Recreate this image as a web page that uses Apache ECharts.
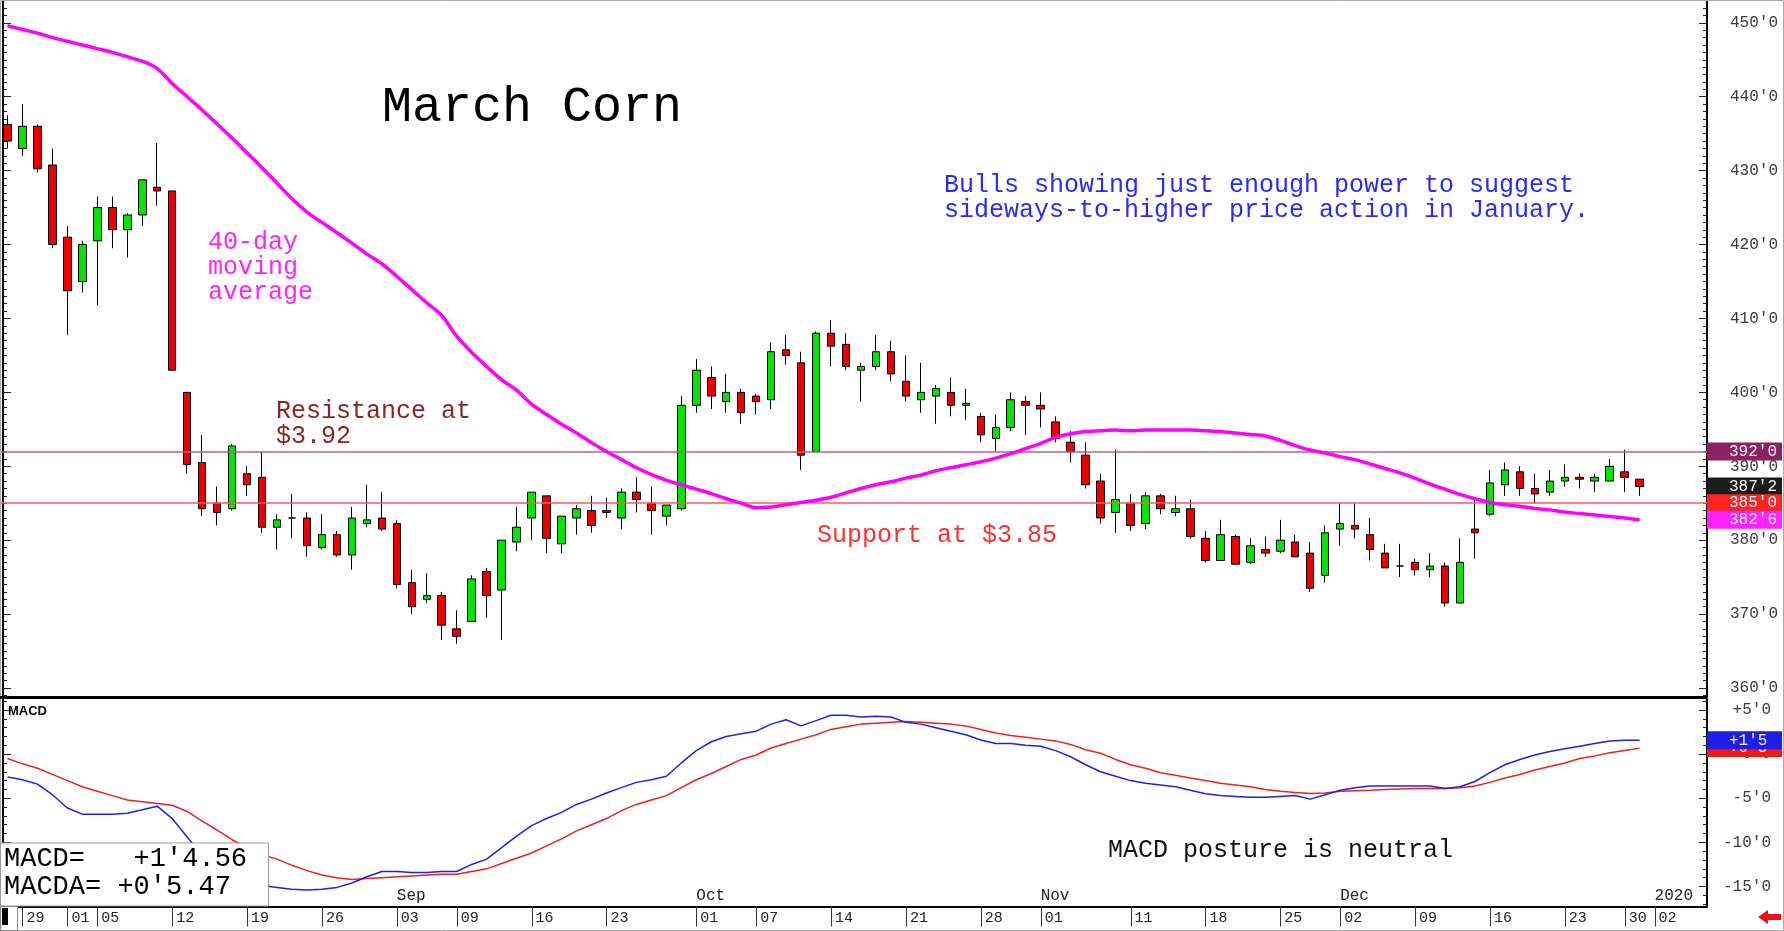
<!DOCTYPE html>
<html>
<head>
<meta charset="utf-8">
<title>March Corn</title>
<script src="https://cdn.jsdelivr.net/npm/echarts@6/dist/echarts.min.js"></script>
<style>
  html, body { margin: 0; padding: 0; background: #fff; }
  #main { width: 1784px; height: 931px; }
</style>
</head>
<body>
<div id="main"></div>
<script>
// trading days (4 empty days of 2020 at the right edge)
var dates = [
  '2019-07-26','2019-07-29','2019-07-30','2019-07-31',
  '2019-08-01','2019-08-02','2019-08-05','2019-08-06','2019-08-07','2019-08-08','2019-08-09',
  '2019-08-12','2019-08-13','2019-08-14','2019-08-15','2019-08-16',
  '2019-08-19','2019-08-20','2019-08-21','2019-08-22','2019-08-23',
  '2019-08-26','2019-08-27','2019-08-28','2019-08-29','2019-08-30',
  '2019-09-03','2019-09-04','2019-09-05','2019-09-06',
  '2019-09-09','2019-09-10','2019-09-11','2019-09-12','2019-09-13',
  '2019-09-16','2019-09-17','2019-09-18','2019-09-19','2019-09-20',
  '2019-09-23','2019-09-24','2019-09-25','2019-09-26','2019-09-27',
  '2019-09-30',
  '2019-10-01','2019-10-02','2019-10-03','2019-10-04',
  '2019-10-07','2019-10-08','2019-10-09','2019-10-10','2019-10-11',
  '2019-10-14','2019-10-15','2019-10-16','2019-10-17','2019-10-18',
  '2019-10-21','2019-10-22','2019-10-23','2019-10-24','2019-10-25',
  '2019-10-28','2019-10-29','2019-10-30','2019-10-31',
  '2019-11-01',
  '2019-11-04','2019-11-05','2019-11-06','2019-11-07','2019-11-08',
  '2019-11-11','2019-11-12','2019-11-13','2019-11-14','2019-11-15',
  '2019-11-18','2019-11-19','2019-11-20','2019-11-21','2019-11-22',
  '2019-11-25','2019-11-26','2019-11-27','2019-11-29',
  '2019-12-02','2019-12-03','2019-12-04','2019-12-05','2019-12-06',
  '2019-12-09','2019-12-10','2019-12-11','2019-12-12','2019-12-13',
  '2019-12-16','2019-12-17','2019-12-18','2019-12-19','2019-12-20',
  '2019-12-23','2019-12-24','2019-12-26','2019-12-27','2019-12-30','2019-12-31',
  '2020-01-02','2020-01-03','2020-01-06','2020-01-07'
];

var opens = [
  436.25,433,436,430.75,421,415,420.5,425,422,424,
  427.75,427.25,400,390.5,385,384.25,389,388.5,381.75,383,
  383,379,380.75,378,382.25,383,382.25,374.25,372,372.5,
  368,369,375.75,373.25,379.75,383,386,379.5,383,384,
  384,383,386.5,385,383.25,384.25,398.25,402,398.75,400,
  399.5,399,405.75,404,392,408,406.5,403,403.5,405.5,
  401.5,399,399.5,400,398.25,396.75,393.75,395.25,398.75,398.25,
  396,393.25,391.5,388,383.75,385,382.25,386,383.75,384.25,
  380.25,377.25,380.5,377,378.75,378.5,379.75,378.25,375.25,381.5,
  382,380.75,378.25,376.5,377,376,376.5,371.5,381.5,383.5,
  387.5,389.25,387,386.5,388,388.5,388,388,389.25,388.25
];
var highs = [
  437.5,439,436.25,433,422.5,420.5,426.5,426.5,424.25,428.75,
  433.75,427.25,400,394.25,387.25,393,390,392,383.5,386.25,
  383.75,383.5,381.25,384.5,387.5,386.5,382.75,376,375.5,373,
  370.5,375.25,376.25,380,384.5,386.5,386,383.25,384.75,386,
  385.75,387,388.5,387.25,384.75,399.5,404.5,403.5,402.5,400.5,
  399.75,406.75,407.75,405.5,408.25,409.75,408,404,407.75,407,
  405,404,401,402,400.5,397.25,397,400,399.5,400,
  396.75,394.75,393.25,389,392.25,386.25,386.5,386.25,386,385.5,
  381.25,382.75,380.75,380.25,380.5,382.75,380.75,379.75,382,385,
  385,383,379.5,379.5,377.5,378.25,377,380.25,385.5,389.5,
  390.5,390,389,389.5,390.25,389,389,391,392.25,388.25
];
var lows = [
  433,432,429.75,419.5,407.75,413.5,411.75,419.5,418.25,422.5,
  425.25,403,389,383.25,382,384,386,381,378.75,380.25,
  377.75,378.75,377.75,376,381.75,381.25,373.5,370,371.5,366.5,
  366,369,369.5,366.5,378.5,380,378.25,378.25,380.75,381,
  383,381.5,383.75,380.75,382,384,397.25,397.75,397.25,395.75,
  397,397.75,403.75,389.5,392,403.5,403,398.75,403,401.5,
  398.75,397.25,395.75,396.75,396.25,393.25,392,394.75,394.25,395.25,
  393.25,390.5,387,382.25,381,381.25,381.5,383.5,383.25,380.25,
  377,377.25,376.75,376.75,377.75,378.25,377.75,373,374.25,379.25,
  380.25,377.25,376.25,375,375.25,375,371,371.5,377.5,383.25,
  386,386,385,386,387.25,387,386.5,388,386.5,386
];
var closes = [
  434,436,430.25,420,413.75,420,425,422,424,428.75,
  427.25,403,390.25,384.25,383.75,392.75,387.5,381.75,382.75,383,
  379.25,380.75,378,383,382.75,381.5,374,371,372.5,368.5,
  367,374.75,372.5,380,381.75,386.5,380.25,383.25,384.25,382,
  383.75,386.5,385.5,384,384.75,398.25,403,399.5,400,397.25,
  398.75,405.5,405,391.5,408,406.25,403.5,403.5,405.5,402.5,
  399.5,400,400.5,398.25,398.5,394.25,395.25,399,398.25,397.75,
  393.75,392,387.5,383,385.5,382,386,384.25,384.25,380.5,
  377.25,380.75,376.75,379.25,378.25,380,377.75,373.5,381,382.25,
  381.5,378.75,376.25,376.5,376,376.5,371.5,377,381,387.75,
  389.5,387,386.25,388,388.5,388.25,388.5,390,388.5,387.25
];

// 40-day moving average
var ma40 = [
  449.6,449.1,448.6,448.0,447.5,447.0,446.5,446.0,445.4,444.8,
  443.8,441.8,440.0,438.2,436.3,434.4,432.4,430.4,428.3,426.2,
  424.4,423.0,421.6,420.2,418.7,417.4,415.7,413.9,412.1,410.4,
  407.6,405.4,403.5,401.7,400.3,398.4,397.0,395.7,394.5,393.2,
  392.0,390.9,389.8,388.9,388.1,387.5,386.9,386.3,385.6,385.0,
  384.4,384.5,384.8,385.1,385.4,385.8,386.4,387.0,387.5,387.9,
  388.4,388.8,389.4,389.8,390.2,390.6,391.1,391.7,392.4,393.1,
  393.9,394.4,394.7,394.8,394.9,394.8,394.9,394.9,394.9,394.9,
  394.8,394.7,394.5,394.3,394.1,393.5,392.8,392.2,391.8,391.3,
  390.9,390.3,389.7,389.1,388.4,387.6,386.9,386.2,385.6,385.1,
  384.8,384.6,384.3,384.1,383.8,383.6,383.4,383.2,383.0,382.75
];

var macd = [
  -2.6,-2.9,-3.4,-4.6,-6.1,-6.8,-6.8,-6.8,-6.7,-6.3,
  -5.9,-7.3,-9.4,-11.5,-13.0,-14.0,-14.6,-14.9,-15.1,-15.3,
  -15.4,-15.3,-15.1,-14.6,-13.9,-13.3,-13.3,-13.4,-13.4,-13.3,
  -13.3,-12.5,-11.9,-10.6,-9.3,-8.1,-7.3,-6.6,-5.7,-5.1,
  -4.4,-3.8,-3.2,-2.9,-2.5,-1.0,0.4,1.4,2.0,2.3,
  2.6,3.4,3.9,3.2,3.8,4.4,4.4,4.2,4.3,4.2,
  3.6,3.4,3.0,2.6,2.2,1.6,1.2,1.2,1.0,0.9,
  0.4,-0.3,-1.2,-2.0,-2.5,-3.0,-3.3,-3.5,-3.7,-4.1,
  -4.5,-4.7,-4.8,-4.9,-4.9,-4.8,-4.7,-5.1,-4.6,-4.1,
  -3.8,-3.6,-3.6,-3.6,-3.6,-3.6,-3.9,-3.7,-3.1,-2.1,
  -1.2,-0.6,-0.1,0.3,0.6,0.9,1.2,1.5,1.57,1.57
];
var macdAvg = [
  -0.5,-1.1,-1.6,-2.3,-3.0,-3.7,-4.2,-4.7,-5.2,-5.4,
  -5.6,-5.8,-6.5,-7.6,-8.6,-9.7,-10.6,-11.4,-11.9,-12.6,
  -13.2,-13.7,-14.0,-14.2,-14.1,-14.0,-13.9,-13.8,-13.7,-13.6,
  -13.6,-13.3,-13.0,-12.4,-11.8,-11.2,-10.4,-9.6,-8.7,-8.0,
  -7.3,-6.4,-5.7,-5.2,-4.7,-3.8,-2.9,-2.2,-1.4,-0.6,
  -0.1,0.7,1.2,1.7,2.2,2.8,3.1,3.4,3.5,3.6,
  3.7,3.6,3.5,3.4,3.2,2.8,2.4,2.1,1.9,1.7,
  1.5,1.1,0.5,0.1,-0.6,-1.2,-1.6,-2.1,-2.4,-2.7,
  -3.0,-3.3,-3.5,-3.7,-4.0,-4.2,-4.35,-4.45,-4.4,-4.2,
  -4.15,-4.1,-4.0,-3.95,-3.9,-3.9,-3.9,-3.8,-3.6,-3.2,
  -2.7,-2.3,-1.8,-1.4,-1.0,-0.5,-0.2,0.15,0.4,0.68
];

var priceTicks = [360, 370, 380, 390, 400, 410, 420, 430, 440, 450];
var macdTicks = [5, 0, -5, -10, -15];
var dayLabels = ['2019-07-29','2019-08-01','2019-08-05','2019-08-12','2019-08-19','2019-08-26',
  '2019-09-03','2019-09-09','2019-09-16','2019-09-23','2019-10-01','2019-10-07','2019-10-14',
  '2019-10-21','2019-10-28','2019-11-01','2019-11-11','2019-11-18','2019-11-25','2019-12-02',
  '2019-12-09','2019-12-16','2019-12-23','2019-12-30','2020-01-02'];
var monthLabels = { '2019-08-01': 'Aug', '2019-09-03': 'Sep', '2019-10-01': 'Oct',
  '2019-11-01': 'Nov', '2019-12-02': 'Dec', '2020-01-02': '2020' };

var resistance = 392, support = 385, lastPrice = 387.25, lastMa = 382.75;
var lastMacd = 1.57, lastMacdAvg = 0.68;

// ---- layout (pixels) ----
var FONT = 'Liberation Mono';
var plotLeft = -1.8, plotRight = 77;        // axis line at x = 1707
var pTop = 0, pBottom = 697, y450 = 22.8, y360 = 688;
var mTop = 699, mBottom = 906.5, yP5 = 710, yM15 = 886.5;

var pUnit = (y360 - y450) / 90;
var pMax = 450 + (y450 - pTop) / pUnit;
var pMin = 360 - (pBottom - y360) / pUnit;
var mUnit = (yM15 - yP5) / 20;
var mMax = 5 + (yP5 - mTop) / mUnit;
var mMin = -15 - (mBottom - yM15) / mUnit;

var pMinor = [], mMinor = [];
for (var v = Math.ceil(pMin); v <= pMax; v++) pMinor.push(v);
for (var w = Math.ceil(mMin); w <= mMax; w++) mMinor.push(w);

var candles = opens.map(function (o, i) {
  return [o, closes[i], lows[i], highs[i]];
});

function fmtPrice(v) { return v + "'0"; }
function fmtMacd(v) { return (v > 0 ? '+' : '-') + Math.abs(v) + "'0"; }

function tag(value, text, bg, lineColor) {
  return {
    yAxis: value,
    lineStyle: lineColor ? { color: lineColor, width: 1.5, type: 'solid' } : { color: 'rgba(0,0,0,0)', width: 0 },
    label: {
      show: true, position: 'end', distance: 0, formatter: text,
      backgroundColor: bg, color: '#f4f4f4',
      fontFamily: FONT, fontSize: 16, lineHeight: 15,
      padding: [2, 2, 1, 22], width: 51
    }
  };
}

function tickAxis(grid, pos, values, len, min, max, withLine, withLabel, fmt) {
  return {
    type: 'value', gridIndex: grid, position: pos, min: min, max: max,
    offset: pos === 'left' ? -3 : 0,
    splitLine: { show: false },
    axisLine: { show: withLine, onZero: false, lineStyle: { color: '#000', width: 2 } },
    axisTick: { show: true, inside: true, length: len, customValues: values,
      lineStyle: { color: '#222', width: 1 } },
    axisLabel: withLabel ? {
      show: true, customValues: values, formatter: fmt, fontFamily: FONT,
      fontSize: 16, color: '#3a3a3a', align: 'right', margin: pos === 'right' ? (grid === 0 ? 71 : 64) : 8
    } : { show: false }
  };
}

var chart = echarts.init(document.getElementById('main'));

var option = {
  animation: false,
  backgroundColor: '#fff',
  grid: [
    { left: plotLeft, right: plotRight, top: pTop, height: pBottom - pTop },
    { left: plotLeft, right: plotRight, top: mTop, height: mBottom - mTop }
  ],
  xAxis: [
    { type: 'category', gridIndex: 0, data: dates, show: false, boundaryGap: true },
    {
      type: 'category', gridIndex: 1, data: dates, boundaryGap: true, position: 'bottom',
      axisLine: { onZero: false, lineStyle: { color: '#000', width: 2 } },
      axisTick: { show: false },
      axisLabel: {
        interval: function (i, val) { return dayLabels.indexOf(val) >= 0; },
        formatter: function (val) { return val.slice(8); },
        align: 'left', padding: [0, 0, 0, 4], margin: 4,
        fontFamily: FONT, fontSize: 15, color: '#222'
      }
    },
    {
      type: 'category', gridIndex: 1, data: dates, boundaryGap: true, position: 'bottom',
      axisLine: { show: false }, axisTick: { show: false },
      axisLabel: {
        inside: true, margin: 3,
        interval: function (i, val) { return monthLabels[val] !== undefined; },
        formatter: function (val) { return monthLabels[val] || ''; },
        align: 'left', fontFamily: FONT, fontSize: 16, color: '#222'
      }
    }
  ],
  yAxis: [
    tickAxis(0, 'right', priceTicks, 8, pMin, pMax, true, true, fmtPrice),
    tickAxis(0, 'right', pMinor, 4, pMin, pMax, false, false),
    tickAxis(0, 'left', priceTicks, 8, pMin, pMax, true, false),
    tickAxis(0, 'left', pMinor, 4, pMin, pMax, false, false),
    tickAxis(1, 'right', macdTicks, 8, mMin, mMax, true, true, fmtMacd),
    tickAxis(1, 'right', mMinor, 4, mMin, mMax, false, false),
    tickAxis(1, 'left', macdTicks, 8, mMin, mMax, true, false),
    tickAxis(1, 'left', mMinor, 4, mMin, mMax, false, false)
  ],
  series: [
    {
      name: 'March Corn', type: 'candlestick', xAxisIndex: 0, yAxisIndex: 0,
      data: candles, barWidth: 8,
      itemStyle: { color: '#00e600', color0: '#ee0000', borderColor: '#000', borderColor0: '#000', borderWidth: 1 },
      markLine: {
        silent: true, symbol: ['none', 'none'], animation: false,
        data: [
          tag(resistance, "392'0", '#8c2060', '#b0608c'),
          tag(lastPrice, "387'2", '#1c1c1c'),
          tag(support, "385'0", '#ff2222', '#ff5a5a'),
          tag(lastMa, "382'6", '#ff22ff')
        ]
      }
    },
    {
      name: 'MA40', type: 'line', xAxisIndex: 0, yAxisIndex: 0, data: ma40,
      symbol: 'none', smooth: 0.3, z: 5,
      lineStyle: { color: '#ff00ff', width: 3.5 }
    },
    {
      name: 'MACDA', type: 'line', xAxisIndex: 1, yAxisIndex: 4, data: macdAvg,
      symbol: 'none', lineStyle: { color: '#ee2020', width: 1.5 },
      markLine: { silent: true, symbol: ['none', 'none'], data: [tag(lastMacdAvg, "+0'5", '#ee1a1a')] }
    },
    {
      name: 'MACD', type: 'line', xAxisIndex: 1, yAxisIndex: 4, data: macd,
      symbol: 'none', lineStyle: { color: '#2020e8', width: 1.5 },
      markLine: { silent: true, symbol: ['none', 'none'], data: [tag(lastMacd, "+1'5", '#1e1ee6')] }
    }
  ],
  graphic: [
    { type: 'rect', z: 90, shape: { x: 0.5, y: 0.5, width: 1783, height: 930 }, style: { fill: 'none', stroke: '#aaa' } },
    { type: 'rect', z: 90, shape: { x: 0, y: 696, width: 1707, height: 3 }, style: { fill: '#000' } },
    { type: 'text', z: 90, x: 382, y: 108, style: { text: 'March Corn', font: '50px "Liberation Mono"', fill: '#000', verticalAlign: 'middle' } },
    { type: 'text', z: 90, x: 944, y: 185.5, style: { text: 'Bulls showing just enough power to suggest', font: '25px "Liberation Mono"', fill: '#2a2aff', verticalAlign: 'middle' } },
    { type: 'text', z: 90, x: 944, y: 210.5, style: { text: 'sideways-to-higher price action in January.', font: '25px "Liberation Mono"', fill: '#2a2aff', verticalAlign: 'middle' } },
    { type: 'text', z: 90, x: 208, y: 242, style: { text: '40-day', font: '25px "Liberation Mono"', fill: '#ff22ff', verticalAlign: 'middle' } },
    { type: 'text', z: 90, x: 208, y: 267, style: { text: 'moving', font: '25px "Liberation Mono"', fill: '#ff22ff', verticalAlign: 'middle' } },
    { type: 'text', z: 90, x: 208, y: 292, style: { text: 'average', font: '25px "Liberation Mono"', fill: '#ff22ff', verticalAlign: 'middle' } },
    { type: 'text', z: 90, x: 276, y: 411, style: { text: 'Resistance at', font: '25px "Liberation Mono"', fill: '#8b2525', verticalAlign: 'middle' } },
    { type: 'text', z: 90, x: 276, y: 436, style: { text: '$3.92', font: '25px "Liberation Mono"', fill: '#8b2525', verticalAlign: 'middle' } },
    { type: 'text', z: 90, x: 817, y: 535, style: { text: 'Support at $3.85', font: '25px "Liberation Mono"', fill: '#ff3030', verticalAlign: 'middle' } },
    { type: 'text', z: 90, x: 1108, y: 850, style: { text: 'MACD posture is neutral', font: '25px "Liberation Mono"', fill: '#111', verticalAlign: 'middle' } },
    { type: 'text', z: 90, x: 8, y: 711, style: { text: 'MACD', font: 'bold 13px "Liberation Sans"', fill: '#000', verticalAlign: 'middle' } },
    { type: 'rect', z: 95, shape: { x: 0.5, y: 843, width: 268, height: 63 }, style: { fill: '#fff', stroke: '#999' } },
    { type: 'text', z: 96, x: 4, y: 859, style: { text: "MACD=   +1'4.56", font: '27px "Liberation Mono"', fill: '#000', verticalAlign: 'middle' } },
    { type: 'text', z: 96, x: 4, y: 887, style: { text: "MACDA= +0'5.47", font: '27px "Liberation Mono"', fill: '#000', verticalAlign: 'middle' } },
    { type: 'rect', z: 95, shape: { x: 0.5, y: 906.5, width: 17, height: 24 }, style: { fill: '#fff', stroke: '#888' } },
    { type: 'rect', z: 96, shape: { x: 2, y: 908, width: 6, height: 17 }, style: { fill: '#000' } },
    { type: 'polygon', z: 96, shape: { points: [[1758, 917], [1768, 910], [1768, 914], [1781, 914], [1781, 920], [1768, 920], [1768, 924]] }, style: { fill: '#ee1111' } }
  ]
};

chart.setOption(option);

// date ticks under the MACD panel, placed through the category axis
var dateTicks = dayLabels.map(function (d) {
  var x = Math.round(chart.convertToPixel({ xAxisIndex: 1 }, d)) + 0.5;
  return {
    type: 'line', z: 90,
    shape: { x1: x, y1: mBottom, x2: x, y2: mBottom + 20 },
    style: { stroke: '#333', lineWidth: 1 }
  };
});
chart.setOption({ graphic: option.graphic.concat(dateTicks) });
</script>
</body>
</html>
